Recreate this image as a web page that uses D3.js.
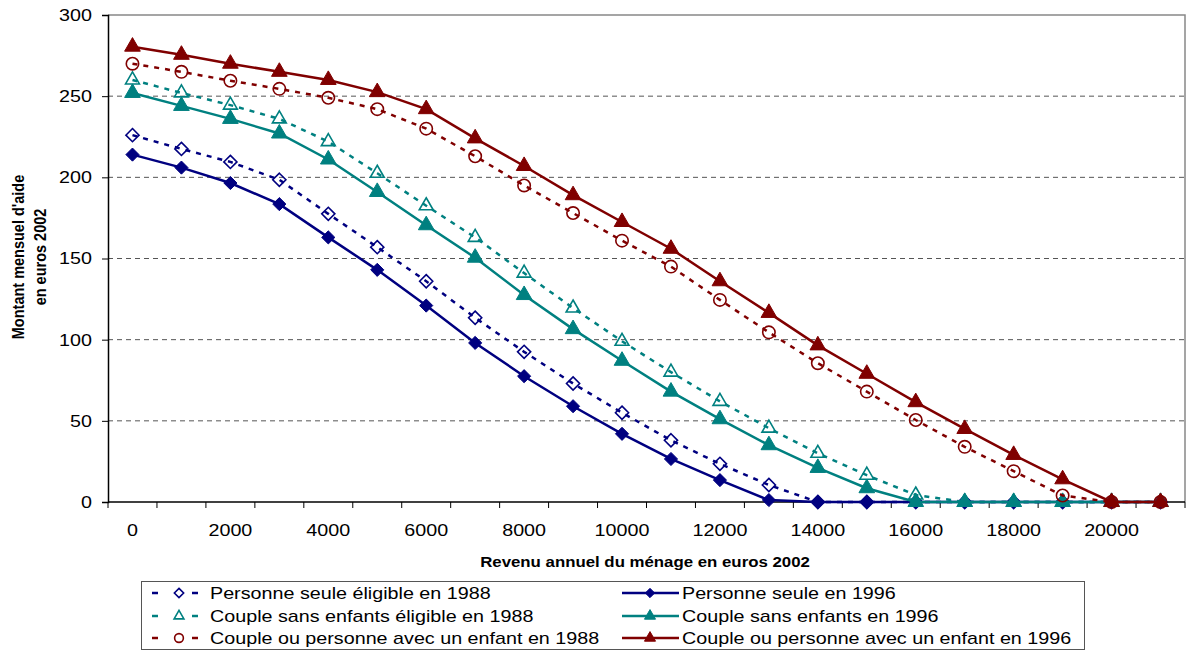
<!DOCTYPE html>
<html>
<head>
<meta charset="utf-8">
<script src="https://cdn.jsdelivr.net/npm/d3@7"></script>
<style>
  body { margin: 0; background: #fff; }
  svg { font-family: 'Liberation Sans', Arial, sans-serif; }
</style>
</head>
<body>
<svg id="chart" width="1190" height="652"></svg>
<script>
// income categories (euros 2002)
const incomes = d3.range(0, 22000, 1000);
const yTicks = [0, 50, 100, 150, 200, 250, 300];

// monthly aid
const seule1988 = [226, 217.5, 209.5, 198.5, 177.5, 157, 136, 113.5, 92.5, 73, 55, 38, 23.5, 10.5, 0, 0, 0, 0, 0, 0, 0, 0];
const seule1996 = [214, 206, 196.5, 183.5, 163, 143, 121, 98, 77.5, 59, 42, 26.5, 13.5, 1.2, 0, 0, 0, 0, 0, 0, 0, 0];
const couple1988 = [260, 252, 244.5, 236, 222, 202.5, 182.5, 163, 141, 119.5, 99, 80, 62, 45.5, 30, 16.5, 4.3, 0, 0, 0, 0, 0];
const couple1996 = [252, 244, 236, 227, 211, 191, 170.5, 150.5, 127.5, 106.5, 87, 68, 51, 35, 21, 8.5, 0, 0, 0, 0, 0, 0];
const enfant1988 = [270, 265, 259.5, 254.5, 249, 242, 230, 213, 195, 178, 161, 145, 124.5, 104.5, 85.5, 68, 50.5, 34, 19, 4, 0, 0];
const enfant1996 = [280.5, 275.5, 270, 265, 260, 252.5, 242, 224, 207, 189, 172.5, 156, 136, 116.5, 96.5, 79, 61.5, 45, 29, 14, 0, 0];

const series = [
  { name: 'Personne seule éligible en 1988', values: seule1988, color: '#000080', dashed: true, marker: 'diamond', filled: false },
  { name: 'Personne seule en 1996', values: seule1996, color: '#000080', dashed: false, marker: 'diamond', filled: true },
  { name: 'Couple sans enfants éligible en 1988', values: couple1988, color: '#008080', dashed: true, marker: 'triangle', filled: false },
  { name: 'Couple sans enfants en 1996', values: couple1996, color: '#008080', dashed: false, marker: 'triangle', filled: true },
  { name: 'Couple ou personne avec un enfant en 1988', values: enfant1988, color: '#800000', dashed: true, marker: 'circle', filled: false },
  { name: 'Couple ou personne avec un enfant en 1996', values: enfant1996, color: '#800000', dashed: false, marker: 'triangle', filled: true }
];

const svg = d3.select('#chart');
const plotL = 108, plotR = 1185, plotT = 15, plotB = 502;
const SX = 1.16; // the original picture is a bit stretched sideways

const x = d3.scaleBand().domain(incomes).range([plotL, plotR]).paddingInner(0).paddingOuter(0);
const y = d3.scaleLinear().domain([0, 300]).range([plotB, plotT]);
const cx = d => x(d) + x.bandwidth() / 2;

// text helper: positioned group, stretched horizontally
function label(parent, tx, ty, str, size, anchor, bold) {
  return parent.append('text')
    .attr('transform', `translate(${tx},${ty}) scale(${SX},1)`)
    .attr('text-anchor', anchor)
    .attr('font-size', size)
    .attr('font-weight', bold ? 'bold' : null)
    .attr('fill', '#000')
    .text(str);
}

// gridlines
svg.append('g').selectAll('line')
  .data(yTicks.filter(t => t > 0 && t < 300))
  .join('line')
  .attr('x1', plotL).attr('x2', plotR)
  .attr('y1', d => y(d)).attr('y2', d => y(d))
  .attr('stroke', '#555').attr('stroke-width', 1)
  .attr('stroke-dasharray', '5,4');

// plot border (top/right)
svg.append('path')
  .attr('d', `M${plotL},${plotT}H${plotR}V${plotB}`)
  .attr('fill', 'none').attr('stroke', '#888').attr('stroke-width', 1.5);

// y axis
const yAxis = svg.append('g')
  .attr('transform', `translate(${plotL},0)`)
  .call(d3.axisLeft(y).tickValues(yTicks).tickSize(6).tickFormat(d3.format('d')));
yAxis.select('.domain').attr('stroke', '#000').attr('stroke-width', 1.5);
yAxis.selectAll('.tick line').attr('stroke', '#000');
yAxis.selectAll('.tick text')
  .attr('font-size', 17).attr('fill', '#000')
  .attr('x', -16 / SX)
  .attr('transform', `scale(${SX},1)`);

// x axis: ticks on category boundaries, labels every other category
const xg = svg.append('g').attr('transform', `translate(0,${plotB})`);
xg.append('line').attr('x1', plotL).attr('x2', plotR).attr('stroke', '#000').attr('stroke-width', 1.5);
xg.selectAll('line.tk')
  .data(incomes.concat([null]))
  .join('line').attr('class', 'tk')
  .attr('x1', (d, i) => plotL + i * x.bandwidth())
  .attr('x2', (d, i) => plotL + i * x.bandwidth())
  .attr('y1', 0).attr('y2', 6)
  .attr('stroke', '#000');
incomes.filter((d, i) => i % 2 === 0).forEach(d => {
  label(xg, cx(d), 34, d, 17, 'middle', false);
});

// axis titles
label(svg, 645, 567, 'Revenu annuel du ménage en euros 2002', 14.5, 'middle', true);
const yt = svg.append('text')
  .attr('transform', `translate(24,257) scale(${SX},1) rotate(-90)`)
  .attr('text-anchor', 'middle').attr('font-size', 14.5).attr('font-weight', 'bold');
yt.append('tspan').attr('x', 0).attr('dy', 0).text("Montant mensuel d'aide");
yt.append('tspan').attr('x', 0).attr('dy', 19).text('en euros 2002');

// marker drawing
function drawMarker(sel, s, size) {
  const sym = s.marker === 'diamond' ? d3.symbolDiamond2 :
              s.marker === 'triangle' ? d3.symbolTriangle2 : d3.symbolCircle;
  const sz = s.marker === 'triangle' ? (s.filled ? size * 1.6 : size * 1.25) :
             s.marker === 'circle' ? size * 1.1 : size;
  sel.append('path')
    .attr('d', d3.symbol(sym, sz))
    .attr('fill', s.filled ? s.color : 'none')
    .attr('stroke', s.color)
    .attr('stroke-width', s.filled ? 1 : 1.6);
}

const line = d3.line().x(d => cx(d.inc)).y(d => y(d.v));

series.forEach(s => {
  const pts = incomes.map((inc, i) => ({ inc, v: s.values[i] }));
  const g = svg.append('g');
  g.append('path')
    .datum(pts)
    .attr('d', line)
    .attr('fill', 'none')
    .attr('stroke', s.color)
    .attr('stroke-width', 2.5)
    .attr('stroke-dasharray', s.dashed ? '5,6' : null);
  g.selectAll('g.pt')
    .data(pts)
    .join('g').attr('class', 'pt')
    .attr('transform', d => `translate(${cx(d.inc)},${y(d.v)})`)
    .each(function () { drawMarker(d3.select(this), s, 110); });
});

// legend
const lg = svg.append('g');
lg.append('rect')
  .attr('x', 141.5).attr('y', 581.5).attr('width', 943).attr('height', 68)
  .attr('fill', '#fff').attr('stroke', '#555').attr('stroke-width', 1);

const rowY = [593, 616, 638];
series.forEach((s, i) => {
  const col = i % 2, row = Math.floor(i / 2);
  const gy = rowY[row];
  const item = lg.append('g');
  if (col === 0) {
    item.append('line').attr('x1', 152).attr('x2', 158).attr('y1', gy).attr('y2', gy)
      .attr('stroke', s.color).attr('stroke-width', 2.5);
    item.append('line').attr('x1', 192).attr('x2', 198).attr('y1', gy).attr('y2', gy)
      .attr('stroke', s.color).attr('stroke-width', 2.5);
    drawMarker(item.append('g').attr('transform', `translate(179,${gy})`), s, 55);
    label(item, 210, gy + 6, s.name, 17, 'start', false);
  } else {
    item.append('line').attr('x1', 622).attr('x2', 679).attr('y1', gy).attr('y2', gy)
      .attr('stroke', s.color).attr('stroke-width', 2.5);
    drawMarker(item.append('g').attr('transform', `translate(650,${gy})`), s, 55);
    label(item, 682, gy + 6, s.name, 17, 'start', false);
  }
});
</script>
</body>
</html>
